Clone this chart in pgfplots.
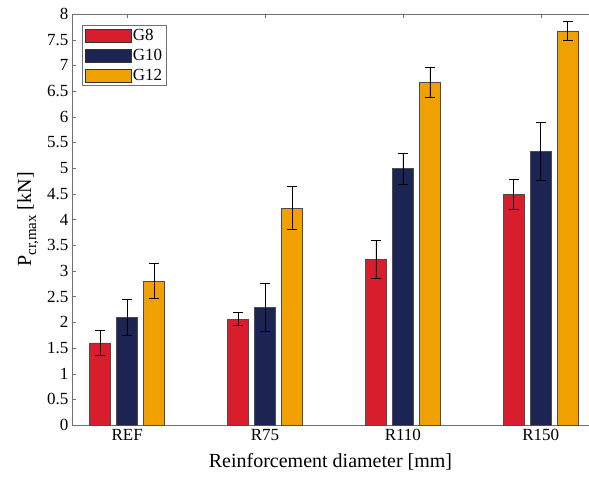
\documentclass[border=0pt]{standalone}
\usepackage{fontspec}
\setmainfont{Liberation Serif}
\usepackage{pgfplots}
\pgfplotsset{compat=1.18}
\usetikzlibrary{calc}
\definecolor{gred}{HTML}{D81E2C}
\definecolor{gnavy}{HTML}{1B2452}
\definecolor{gorange}{HTML}{F0A000}
\definecolor{axgray}{HTML}{707070}

\begin{document}
\begin{tikzpicture}
\begin{axis}[
  name=ax,
  scale only axis,
  width=517pt, height=411pt,
  xmin=-0.4, xmax=3.35,
  ymin=0, ymax=8,
  ybar=6pt,
  bar width=21pt,
  xtick={0,1,2,3},
  xticklabels={REF,R75,R110,R150},
  ytick={0,0.5,...,8},
  ytick pos=left,
  tick align=inside,
  major tick length=4pt,
  axis line style={axgray},
  tick style={axgray},
  tick label style={font=\fontsize{17}{20}\selectfont},
  label style={font=\fontsize{20}{23}\selectfont},
  /pgf/number format/assume math mode=true,
  xticklabel style={yshift=-1pt},
  xlabel={Reinforcement diameter [mm]},
  ylabel={P\raisebox{-5pt}{\fontsize{15}{17}\selectfont cr,max} [kN]},
  ylabel style={yshift=2pt},
  xlabel style={yshift=-6pt},
  legend style={at={(0.02,0.973)}, anchor=north west, draw=axgray,
    font=\fontsize{17}{20}\selectfont, inner sep=2pt,
    row sep=3pt, cells={anchor=west}},
  legend image code/.code={\draw[#1,draw=black!80] (0pt,-6.5pt) rectangle (46pt,6.5pt);},
  error bars/error bar style={black, line width=0.7pt},
  error bars/error mark options={rotate=90, black, mark size=5pt, line width=0.7pt},
]
\addplot[fill=gred, draw=black!70,
  error bars/.cd, y dir=both, y explicit]
  coordinates {(0,1.60) +- (0,0.25) (1,2.06) +- (0,0.13) (2,3.22) +- (0,0.37) (3,4.49) +- (0,0.30)};
\addplot[fill=gnavy, draw=black!70,
  error bars/.cd, y dir=both, y explicit]
  coordinates {(0,2.10) +- (0,0.35) (1,2.29) +- (0,0.47) (2,4.99) +- (0,0.30) (3,5.33) +- (0,0.56)};
\addplot[fill=gorange, draw=black!70,
  error bars/.cd, y dir=both, y explicit]
  coordinates {(0,2.80) +- (0,0.34) (1,4.22) +- (0,0.42) (2,6.67) +- (0,0.29) (3,7.67) +- (0,0.19)};
\legend{G8,G10,G12}
\end{axis}
\pgfresetboundingbox
\path ($(ax.south west)+(-72pt,-55pt)$) rectangle ($(ax.north east)+(0pt,14pt)$);
\end{tikzpicture}
\end{document}
